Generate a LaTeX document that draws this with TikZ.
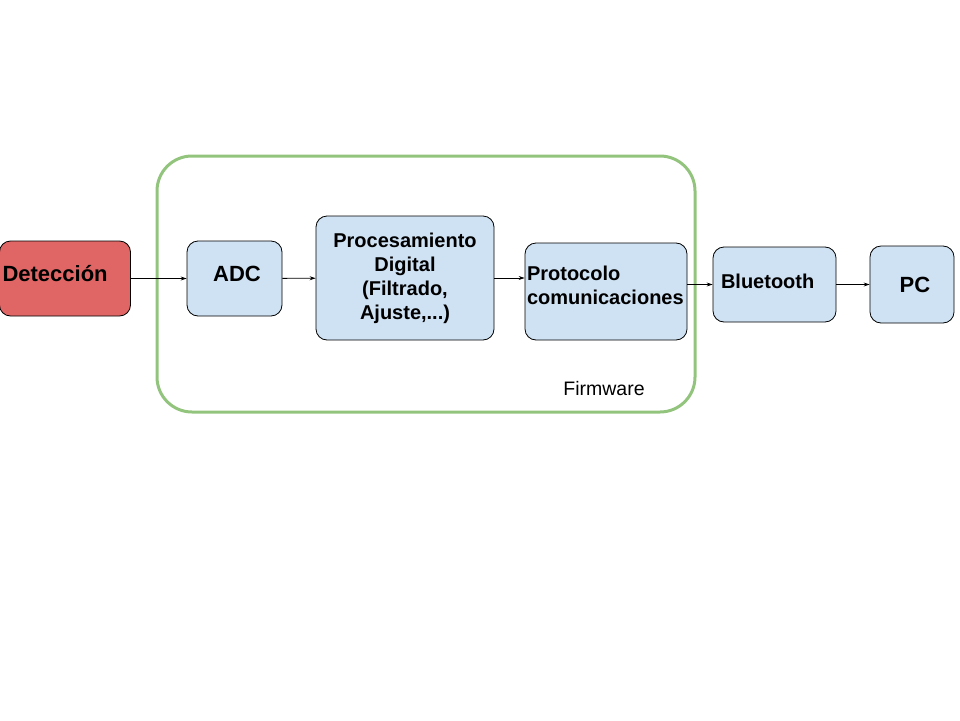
\documentclass[tikz,border=0pt]{standalone}
\usepackage{fontspec}
\setmainfont{Liberation Sans}
\usetikzlibrary{arrows.meta,positioning}
\definecolor{rojo}{HTML}{E06666}
\definecolor{azul}{HTML}{CFE2F3}
\definecolor{verde}{HTML}{93C47D}

\begin{document}
\begin{tikzpicture}[x=1pt,y=-1pt,->,>={Stealth[length=6pt,width=4pt]},line width=0.8pt]
	\tikzstyle{block}=[draw=black,fill=azul,rounded corners=11pt,inner sep=0pt,font=\fontsize{20}{24}\selectfont\bfseries,align=center]
	\tikzstyle{big}=[font=\fontsize{22}{26}\selectfont\bfseries]
	\tikzstyle{raised}=[text height=16pt,text depth=10pt]
	\useasboundingbox (0,0) rectangle (960,720);

	\node[draw=verde,line width=3pt,rounded corners=35pt,minimum width=538pt,minimum height=256pt] (fw) at (426,284) {};
	\node[font=\fontsize{19.5}{24}\selectfont] (fwlabel) at (604,389) {Firmware};

	\node[block,big,raised,fill=rojo,minimum width=131pt,minimum height=75pt,text width=125pt,align=left] (det) at (65,278.5) {Detección};
	\node[block,big,raised,minimum width=95pt,minimum height=75pt] (adc) at (234.5,278.5) {\hspace{5pt}ADC};
	\node[block,minimum width=178pt,minimum height=124pt] (proc) at (405,278) {Procesamiento\\Digital\\(Filtrado,\\Ajuste,...)};
	\node[block,minimum width=162pt,minimum height=97pt,text width=158pt,align=left,text depth=36pt] (prot) at (606,291.5) {Protocolo\\comunicaciones};
	\node[block,minimum width=123pt,minimum height=75pt,text width=107pt,align=left,text height=15pt,text depth=8pt] (blue) at (774.5,284.5) {Bluetooth};
	\node[block,big,minimum width=84pt,minimum height=77pt] (pc) at (912,284.5) {\hspace{6pt}PC};

	\draw (det) -- (adc);
	\draw (adc) -- (proc);
	\draw (proc.east) -- (proc.east -| prot.west);
	\draw (prot.east |- blue.west) -- (blue.west);
	\draw (blue) -- (pc);
\end{tikzpicture}
\end{document}
